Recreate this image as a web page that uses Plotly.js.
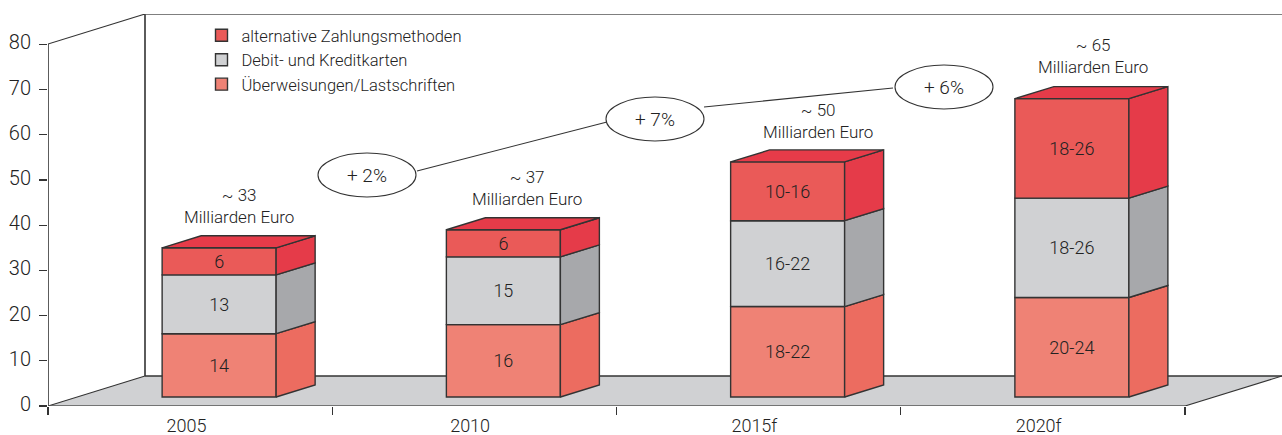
<!DOCTYPE html>
<html><head><meta charset="utf-8">
<script src="https://cdn.plot.ly/plotly-3.0.1.min.js"></script>
<style>html,body{margin:0;padding:0;background:#fff}#c{width:1282px;height:435px}</style>
</head><body><div id="c"></div>
<script>
// Data
const years = ['2005','2010','2015f','2020f'];
const transfers = [14,16,20,22];
const cards = [13,15,19,22];
const alternative = [6,6,13,22];
const transferLabels = ['14','16','18-22','20-24'];
const cardLabels = ['13','15','16-22','18-26'];
const alternativeLabels = ['6','6','10-16','18-26'];
const totals = ['~ 33','~ 37','~ 50','~ 65'];
const growth = ['+ 2%','+ 7%','+ 6%'];
const seriesNames = ['Überweisungen/Lastschriften','Debit- und Kreditkarten','alternative Zahlungsmethoden'];

// Scale: one category = 284.25 px, one unit = 4.52 px
const PXX = 284.25, PXY = 4.52;
const xRange = [-0.5, -0.5 + 1234/PXX];
const yRange = [0, 392/PXY];
const X = p => (p-48)/PXX - 0.5;        // pixel helpers for decoration only
const Y = p => (406-p)/PXY;

const base0 = 2;                        // bars stand on the floor, 2 units above the axis
const barW = 114/PXX;
const dX = 39/PXX, dY = 12/PXY;
const leftOff = (162-190)/PXX;

const DARK = '#333333';
const front = ['#EF8275','#D0D1D3','#EA5A58'];
const side  = ['#EC6C60','#A7A8AB','#E53B49'];
const topCol = '#E63B49';
const series = [transfers, cards, alternative];
const labels = [transferLabels, cardLabels, alternativeLabels];
const FONT = 'Roboto, sans-serif';
const TXT = '#222222';

const traces = [];
const cum = years.map(()=>base0);
const bases = series.map(s=>{ const b = cum.slice(); s.forEach((v,i)=>cum[i]+=v); return b; });

series.forEach((s,k)=>{
  s.forEach((v,i)=>{
    const xr = i + leftOff + barW, b = bases[k][i], t = b+v;
    traces.push({type:'scatter',mode:'lines',fill:'toself',fillcolor:side[k],
      x:[xr,xr+dX,xr+dX,xr,xr], y:[b,b+dY,t+dY,t,b],
      line:{color:DARK,width:1.4},showlegend:false,hoverinfo:'skip',cliponaxis:false});
  });
});
years.forEach((y,i)=>{
  const xl = i + leftOff, t = cum[i];
  traces.push({type:'scatter',mode:'lines',fill:'toself',fillcolor:topCol,
    x:[xl,xl+dX,xl+barW+dX,xl+barW,xl], y:[t,t+dY,t+dY,t,t],
    line:{color:DARK,width:1.4},showlegend:false,hoverinfo:'skip',cliponaxis:false});
});
series.forEach((s,k)=>{
  traces.push({type:'bar',name:seriesNames[k],x:years.map((_,i)=>i),y:s,base:bases[k],
    width:barW,offset:leftOff,
    marker:{color:front[k],line:{color:DARK,width:1.4}},
    text:labels[k],textposition:'inside',insidetextanchor:'middle',constraintext:'none',
    textangle:0,insidetextfont:{family:FONT,size:18,weight:300,color:TXT},hoverinfo:'skip'});
});
traces.push({type:'scatter',mode:'markers',x:years.map((_,i)=>i),y:years.map(()=>0),
  marker:{opacity:0,size:1},showlegend:false,hoverinfo:'skip',xaxis:'x2',yaxis:'y'});

const seg = (x0,y0,x1,y1,c,w)=>({type:'line',xref:'x',yref:'y',layer:'below',x0:X(x0),y0:Y(y0),x1:X(x1),y1:Y(y1),line:{color:c||DARK,width:w||1.5}});
const pathOf = pts => 'M'+pts.map(p=>X(p[0])+','+Y(p[1])).join('L')+'Z';
const shapes = [
  {type:'path',xref:'x',yref:'y',layer:'below',path:pathOf([[48,406],[145,376],[1282,376],[1185,406]]),fillcolor:'#D0D1D3',line:{width:0}},
  seg(145,14,145,376,DARK,1.6), seg(145,14,1282,14,'#555',1.4), seg(48,44,145,14,DARK,1.1),
  seg(48,44,48,406,DARK,1.6), seg(48,406,145,376,DARK,1.1), seg(145,376,1282,376,DARK,1.4),
  seg(48,406,1185,406,'#555',1.4), seg(1185,406,1282,376,DARK,1.1),
  seg(417,171,607,122,DARK,1.1), seg(704,107,893,88,DARK,1.1)
];
const ell = [[367,175],[655,119],[944,87]];
ell.forEach(c=>shapes.push({type:'circle',xref:'x',yref:'y',layer:'above',
  x0:X(c[0]-49),x1:X(c[0]+49),y0:Y(c[1]+22),y1:Y(c[1]-22),fillcolor:'#fff',line:{color:DARK,width:1.1}}));

const annotations = [];
ell.forEach((c,i)=>annotations.push({xref:'x',yref:'y',x:X(c[0]),y:Y(c[1]),text:growth[i],showarrow:false,
  font:{family:FONT,size:19,weight:300,color:TXT},xanchor:'center',yanchor:'middle'}));
const totalPos = [[239,206],[527,188],[818,121],[1093,56]];
totals.forEach((t,i)=>annotations.push({xref:'x',yref:'y',x:X(totalPos[i][0]),y:Y(totalPos[i][1]),
  text:t+'<br>Milliarden Euro',showarrow:false,font:{family:FONT,size:17,weight:300,color:TXT},xanchor:'center',yanchor:'middle'}));

const layout = {
  width:1282,height:435,paper_bgcolor:'#fff',plot_bgcolor:'rgba(0,0,0,0)',
  margin:{l:48,r:0,t:14,b:29},barmode:'overlay',showlegend:true,
  font:{family:FONT,size:18,color:TXT},
  xaxis:{type:'linear',range:xRange,tickmode:'array',tickvals:[-0.5,0.5,1.5,2.5,3.5],ticktext:['','','','',''],
    ticks:'outside',ticklen:8,tickwidth:1.2,tickcolor:DARK,showgrid:false,zeroline:false,showline:false},
  xaxis2:{type:'linear',range:xRange,overlaying:'x',anchor:'y',side:'bottom',tickmode:'array',
    tickvals:[-0.013,0.985,1.985,2.985],ticktext:years,ticks:'',ticklen:0,showgrid:false,zeroline:false,showline:false,
    ticklabelstandoff:7,tickfont:{family:FONT,size:18,weight:300,color:TXT}},
  yaxis:{range:yRange,tickmode:'array',tickvals:[0,10,20,30,40,50,60,70,80],ticks:'outside',ticklen:8,tickwidth:1.2,tickcolor:DARK,
    showgrid:false,zeroline:false,showline:false,ticklabelstandoff:4,ticklabelshift:-2,tickfont:{family:FONT,size:20,weight:300,color:TXT}},
  legend:{x:(201.5-48)/1234,y:1-(4/392),xanchor:'left',yanchor:'top',traceorder:'reversed',bgcolor:'rgba(0,0,0,0)',
    font:{family:FONT,size:16.5,weight:300,color:TXT},itemwidth:30,tracegroupgap:0},
  shapes,annotations
};
Plotly.newPlot('c',traces,layout,{displayModeBar:false,staticPlot:true});
</script></body></html>
